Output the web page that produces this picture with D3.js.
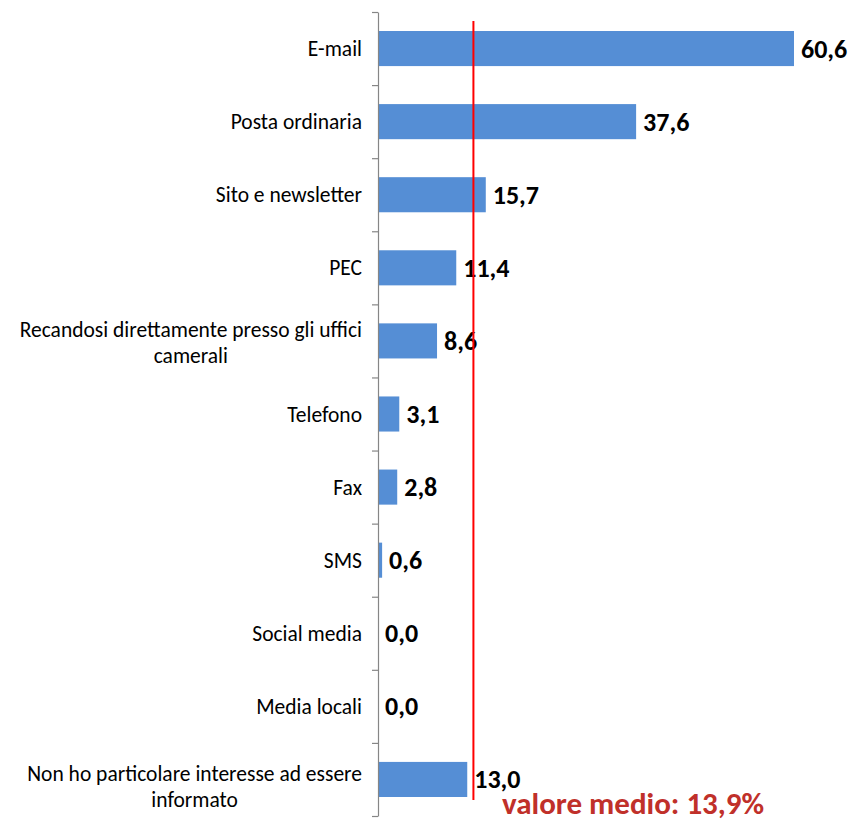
<!DOCTYPE html>
<html>
<head>
<meta charset="utf-8">
<script src="https://cdn.jsdelivr.net/npm/d3@7"></script>
<style>
  html, body { margin: 0; padding: 0; background: #ffffff; }
  svg { display: block; }
</style>
</head>
<body>
<div id="chart"></div>
<script>
// ---- data ----
const categories = [
  "E-mail",
  "Posta ordinaria",
  "Sito e newsletter",
  "PEC",
  "Recandosi direttamente presso gli uffici|camerali",
  "Telefono",
  "Fax",
  "SMS",
  "Social media",
  "Media locali",
  "Non ho particolare interesse ad essere|informato"
];
const values = [60.6, 37.6, 15.7, 11.4, 8.6, 3.1, 2.8, 0.6, 0.0, 0.0, 13.0];
const meanValue = 13.9;
const meanLabel = "valore medio: 13,9%";

// ---- layout ----
const W = 854, H = 820;
const axisX = 378, plotTop = 12, plotBottom = 816, plotRight = 794;
const fontFamily = "Calibri, Carlito, Lato, 'Open Sans', sans-serif";

const svg = d3.select("#chart").append("svg")
  .attr("width", W).attr("height", H);

const x = d3.scaleLinear().domain([0, 60.6]).range([axisX, plotRight]);
const y = d3.scaleBand().domain(categories).range([plotTop, plotBottom])
  .paddingInner(0.52).paddingOuter(0.26);
const idx = d3.scaleLinear().domain([0, categories.length]).range([plotTop, plotBottom]);

// bars
svg.append("g").selectAll("rect")
  .data(categories)
  .join("rect")
  .attr("x", x(0))
  .attr("y", d => y(d))
  .attr("width", (d, i) => x(values[i]) - x(0))
  .attr("height", y.bandwidth())
  .attr("fill", "#558ED5");

// axis with ticks at category boundaries
const axis = svg.append("g")
  .attr("transform", `translate(${axisX},0)`)
  .call(d3.axisLeft(idx).tickValues(d3.range(categories.length + 1))
    .tickFormat("").tickSize(6).tickSizeOuter(0));
axis.selectAll("path, line").attr("stroke", "#868686").attr("stroke-width", 1.2);

// category labels
const labelRight = 362;
const labelG = svg.append("g")
  .attr("font-family", fontFamily)
  .attr("font-size", 21.5)
  .attr("fill", "#000");
categories.forEach((c, i) => {
  const cy = y(c) + y.bandwidth() / 2;
  const lines = c.split("|");
  const isLast = i === categories.length - 1;
  if (lines.length === 1) {
    labelG.append("text")
      .attr("x", labelRight).attr("y", cy + 7.5)
      .attr("text-anchor", "end").text(lines[0]);
  } else {
    const base = cy - 4 + (isLast ? 6 : 0);
    const t = labelG.append("text").attr("text-anchor", "middle");
    const t1 = t.append("tspan").attr("y", base).text(lines[0]);
    const w = t1.node().getComputedTextLength();
    const cx = labelRight - w / 2;
    t1.attr("x", cx);
    t.append("tspan").attr("x", cx).attr("y", base + 26).text(lines[1]);
  }
});

// value labels
svg.append("g")
  .attr("font-family", fontFamily)
  .attr("font-size", 26)
  .attr("font-weight", "bold")
  .attr("fill", "#000")
  .selectAll("text")
  .data(categories)
  .join("text")
  .attr("x", (d, i) => x(values[i]) + 7)
  .attr("y", d => y(d) + y.bandwidth() / 2 + 9)
  .text((d, i) => d3.format(".1f")(values[i]).replace(".", ","));

// mean line
svg.append("line")
  .attr("x1", x(meanValue)).attr("x2", x(meanValue))
  .attr("y1", 21).attr("y2", 800)
  .attr("stroke", "#FF0000").attr("stroke-width", 2);

svg.append("text")
  .attr("x", 502).attr("y", 814)
  .attr("font-family", fontFamily)
  .attr("font-size", 31)
  .attr("font-weight", "bold")
  .attr("fill", "#C0302A")
  .text(meanLabel);
</script>
</body>
</html>
